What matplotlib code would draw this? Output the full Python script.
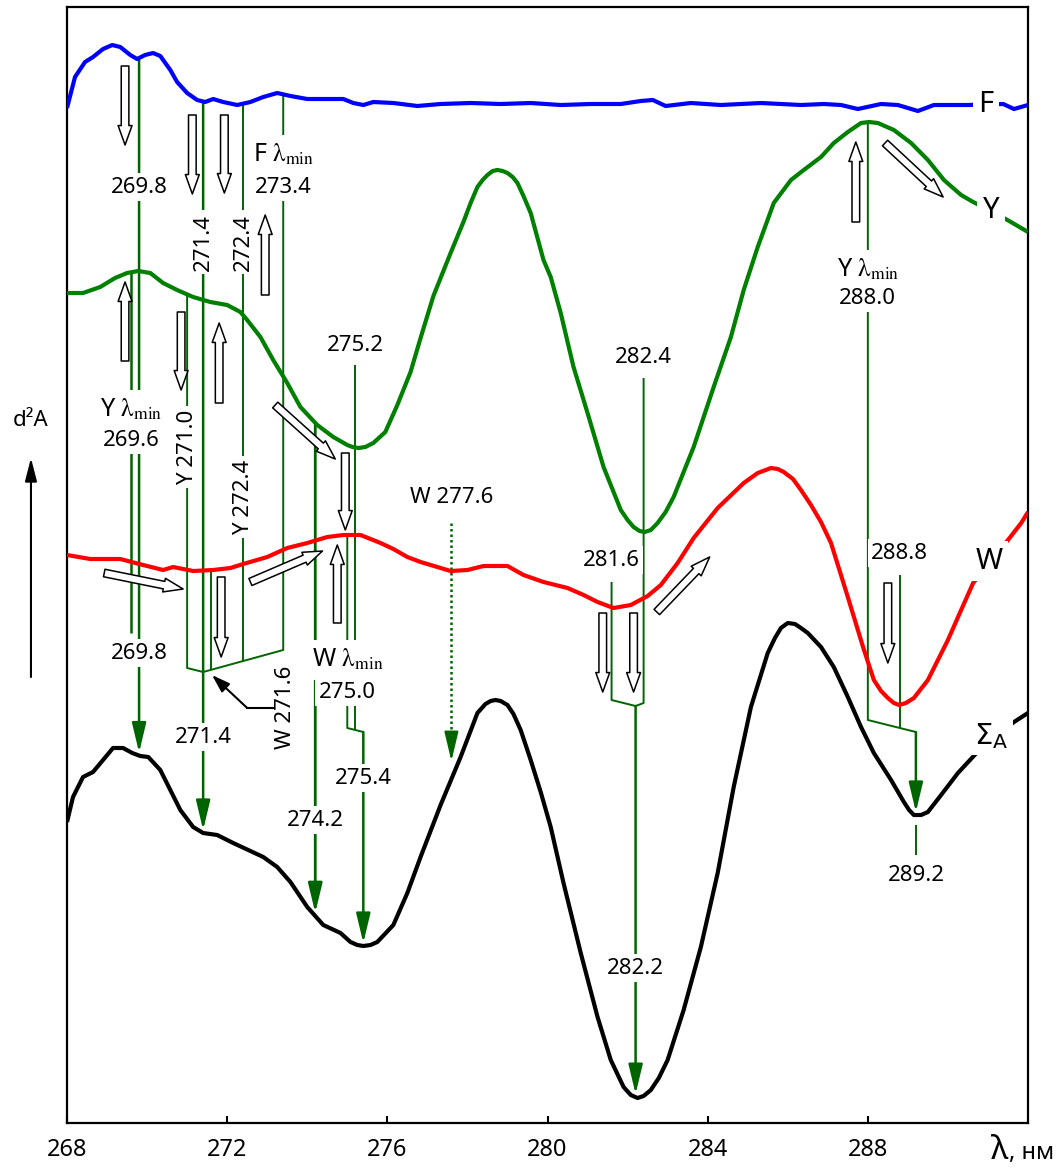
import numpy as np
import matplotlib
matplotlib.use("Agg")
import matplotlib.pyplot as plt
from matplotlib.patches import FancyArrowPatch, ArrowStyle

plt.rcParams["font.family"] = ["Noto Sans", "DejaVu Sans"]

# ---- second-derivative spectra d2A (arbitrary units, traces stacked) ----
f_wl = [268.0, 268.2, 268.45, 268.65, 268.9, 269.13, 269.33, 269.58, 269.75, 269.95,
        270.15, 270.33, 270.58, 270.75, 271.0, 271.25, 271.45, 271.65, 271.9, 272.25,
        272.58, 272.9, 273.25, 273.58, 274.0, 274.9, 275.15, 275.4, 275.65, 276.15,
        276.75, 277.33, 278.08, 278.83, 279.58, 280.33, 281.08, 281.83, 282.33, 282.63,
        282.95, 283.58, 284.33, 285.33, 286.33, 286.9, 287.33, 287.75, 288.33, 288.75,
        289.25, 289.65, 290.08, 290.5, 291.38, 291.65, 292.0]
f_d2 = [101.2, 104.3, 105.8, 106.3, 107.1, 107.5, 107.3, 106.5, 106.1, 106.5,
        106.7, 106.4, 105.0, 103.8, 102.7, 102.0, 101.8, 102.1, 101.8, 101.5,
        101.8, 102.3, 102.7, 102.4, 102.1, 102.1, 101.7, 101.5, 101.8, 101.7,
        101.4, 101.6, 101.7, 101.6, 101.7, 101.5, 101.6, 101.6, 101.9, 102.0,
        101.4, 101.7, 101.5, 101.7, 101.5, 101.6, 101.5, 101.1, 101.6, 101.5,
        100.9, 101.5, 101.5, 101.5, 101.6, 101.1, 101.5]

y_wl = [268.0, 268.4, 268.83, 269.2, 269.5, 269.78, 270.08, 270.4, 270.75, 271.15,
        271.58, 272.0, 272.33, 272.5, 272.83, 273.15, 273.5, 273.83, 274.25, 274.65,
        275.0, 275.13, 275.28, 275.45, 275.65, 275.95, 276.25, 276.58, 276.83, 277.15,
        277.58, 277.9, 278.08, 278.25, 278.38, 278.5, 278.63, 278.75, 278.88, 279.0,
        279.13, 279.25, 279.4, 279.58, 279.9, 280.08, 280.33, 280.65, 281.0, 281.4,
        281.83, 282.0, 282.15, 282.3, 282.43, 282.58, 282.75, 282.95, 283.15, 283.65,
        284.15, 284.58, 284.9, 285.25, 285.65, 286.08, 286.4, 286.83, 287.15, 287.5,
        287.83, 288.03, 288.25, 288.65, 289.08, 289.5, 289.9, 290.33, 290.63, 291.08,
        291.53, 292.0]
y_d2 = [82.7, 82.7, 83.3, 84.2, 84.7, 84.9, 84.7, 83.7, 83.0, 82.3,
        81.8, 81.5, 80.8, 80.0, 78.3, 76.0, 73.7, 71.3, 69.5, 68.3,
        67.5, 67.3, 67.2, 67.3, 67.7, 68.8, 71.5, 74.8, 78.2, 82.4,
        86.7, 89.8, 91.7, 93.3, 94.0, 94.5, 94.9, 95.0, 94.9, 94.7,
        94.3, 93.7, 92.4, 90.7, 86.0, 84.3, 80.7, 75.3, 70.7, 65.3,
        61.0, 60.0, 59.3, 58.9, 58.8, 59.0, 59.7, 60.8, 62.3, 67.3,
        73.3, 78.3, 83.0, 87.3, 91.7, 94.0, 95.0, 96.3, 97.7, 98.8,
        99.7, 99.8, 99.7, 99.0, 97.7, 96.0, 94.0, 92.5, 91.8, 90.9,
        89.9, 88.8]

w_wl = [268.0, 268.58, 269.33, 269.9, 270.4, 270.65, 271.15, 271.65, 272.08, 272.4,
        273.0, 273.5, 274.0, 274.5, 274.9, 275.33, 275.83, 276.15, 276.5, 276.83,
        277.58, 278.0, 278.4, 279.0, 279.4, 279.9, 280.5, 280.9, 281.25, 281.65,
        282.08, 282.5, 282.83, 283.25, 283.65, 284.25, 284.9, 285.25, 285.58, 285.75,
        285.9, 286.13, 286.33, 286.58, 286.83, 287.08, 287.5, 287.88, 288.15, 288.33,
        288.5, 288.65, 288.78, 288.95, 289.15, 289.5, 290.0, 290.33, 290.63, 291.08,
        291.5, 291.83, 292.0]
w_d2 = [56.5, 56.1, 56.1, 55.5, 55.0, 55.3, 54.9, 55.0, 55.2, 55.6,
        56.3, 57.2, 57.7, 58.3, 58.5, 58.5, 57.7, 57.1, 56.3, 55.8,
        54.9, 55.0, 55.4, 55.4, 54.5, 53.8, 53.2, 52.5, 51.8, 51.2,
        51.5, 52.4, 53.5, 55.7, 58.2, 61.2, 63.7, 64.7, 65.2, 65.1,
        64.8, 64.1, 63.0, 61.5, 59.8, 57.7, 52.3, 47.3, 44.0, 42.9,
        42.2, 41.7, 41.5, 41.7, 42.2, 44.0, 48.0, 51.0, 53.7, 56.0,
        58.0, 59.7, 60.8]

s_wl = [268.0, 268.15, 268.4, 268.65, 268.9, 269.15, 269.4, 269.63, 269.83, 270.03,
        270.33, 270.58, 270.83, 271.15, 271.4, 271.75, 272.15, 272.58, 272.9, 273.25,
        273.58, 274.0, 274.4, 274.83, 275.08, 275.25, 275.4, 275.58, 275.75, 276.15,
        276.5, 276.83, 277.33, 277.83, 278.25, 278.45, 278.58, 278.7, 278.83, 279.0,
        279.15, 279.33, 279.58, 279.83, 280.08, 280.4, 280.83, 281.25, 281.58, 281.9,
        282.08, 282.25, 282.4, 282.58, 282.78, 283.0, 283.4, 283.83, 284.25, 284.65,
        285.08, 285.5, 285.68, 285.83, 286.0, 286.18, 286.33, 286.5, 286.83, 287.15,
        287.5, 287.83, 288.15, 288.58, 288.9, 289.03, 289.15, 289.33, 289.5, 289.83,
        290.25, 290.83, 291.33, 291.65, 292.0]
s_d2 = [29.8, 32.3, 34.3, 34.8, 36.0, 37.2, 37.2, 36.7, 36.4, 36.3,
        35.0, 33.0, 31.0, 29.3, 28.7, 28.5, 27.7, 26.9, 26.3, 25.3,
        23.8, 21.3, 19.5, 18.7, 17.8, 17.5, 17.4, 17.5, 17.8, 19.5,
        22.7, 26.3, 31.5, 36.3, 40.7, 41.6, 41.9, 42.0, 41.9, 41.5,
        40.6, 39.0, 36.0, 32.8, 29.3, 23.7, 16.7, 10.3, 6.0, 3.3,
        2.5, 2.2, 2.4, 3.0, 4.2, 6.0, 11.0, 17.3, 24.7, 33.3,
        41.3, 46.7, 48.2, 49.2, 49.7, 49.6, 49.2, 48.7, 47.3, 45.3,
        42.3, 39.3, 36.7, 34.0, 31.8, 31.0, 30.5, 30.5, 30.8, 32.5,
        34.7, 37.2, 38.8, 39.8, 40.7]

x_ticks = [268, 272, 276, 280, 284, 288]

# hollow arrows showing how the component features shift (tail -> head)
shift_arrows = [
    ((269.45, 105.4), (269.45, 97.5)),
    ((271.13, 100.5), (271.13, 92.6)),
    ((271.93, 100.5), (271.93, 92.7)),
    ((272.95, 82.5), (272.95, 90.5)),
    ((269.45, 75.9), (269.45, 83.8)),
    ((270.85, 80.8), (270.85, 73.0)),
    ((271.80, 71.7), (271.80, 79.7)),
    ((273.20, 71.5), (274.70, 66.1)),
    ((274.95, 66.7), (274.95, 59.0)),
    ((274.75, 49.7), (274.75, 57.5)),
    ((268.93, 54.7), (270.90, 53.1)),
    ((272.58, 53.8), (274.38, 56.9)),
    ((271.85, 54.3), (271.85, 46.3)),
    ((281.38, 50.7), (281.38, 42.8)),
    ((282.15, 50.7), (282.15, 42.8)),
    ((282.73, 50.8), (284.05, 56.3)),
    ((287.70, 89.8), (287.70, 97.8)),
    ((288.43, 97.7), (289.88, 92.3)),
    ((288.50, 53.7), (288.50, 45.7)),
]

GUIDE = "#006400"
F = (f_wl, f_d2)
Y = (y_wl, y_d2)
W = (w_wl, w_d2)
S = (s_wl, s_d2)

fig = plt.figure(figsize=(10.62, 11.69), dpi=100)
ax = fig.add_axes([0.06309, 0.03935, 0.90490, 0.95466])
ax.set_xlim(268, 292)
ax.set_ylim(-0.3, 111.3)

for wl, d2, col in [(f_wl, f_d2, "#0000ff"), (y_wl, y_d2, "#008000"),
                    (w_wl, w_d2, "#ff0000"), (s_wl, s_d2, "black")]:
    ax.plot(wl, d2, color=col, lw=3.0, zorder=3, solid_joinstyle="round",
            solid_capstyle="butt")


def on(trace, x):
    return float(np.interp(x, trace[0], trace[1]))


def tip(x):
    return on(S, x) + 0.3


def guide(xs, ys, lw=1.4, ls="-"):
    ax.plot(xs, ys, color=GUIDE, lw=lw, ls=ls, zorder=2, solid_capstyle="butt")


def drop(x, y0, y1, lw=1.8):
    ax.annotate("", xy=(x, y1), xytext=(x, y0), zorder=2,
                arrowprops=dict(arrowstyle=ArrowStyle("-|>", head_length=1.8, head_width=0.43),
                                mutation_scale=10, color=GUIDE, lw=lw,
                                shrinkA=0, shrinkB=0))


def tag(x, y, s, rot=0, size=16, pad=0.15, box=True):
    kw = dict(ha="center", va="center", rotation=rot, fontsize=size,
              math_fontfamily="stix", zorder=5, color="black")
    if box:
        kw["bbox"] = dict(boxstyle=f"square,pad={pad}", fc="white", ec="none")
    ax.text(x, y, s, **kw)


def head(x, y, letter):
    # "<letter> lambda_min" caption above a wavelength value
    tag(x, y, letter + " " + r"$\mathrm{\lambda}_{\mathrm{min}}$", size=18, pad=0.3)


# --- F and Y features around 269-274 nm merging into the sum spectrum ---
drop(269.8, on(F, 269.8), tip(269.8))
guide([269.6, 269.6], [on(Y, 269.6), 48.7], lw=1.8)
drop(271.4, on(F, 271.4), tip(271.4))
guide([271.0, 271.0, 271.4], [on(Y, 271.0), 45.2, 44.8])
guide([273.4, 273.4, 271.4], [on(F, 273.4), 47.0, 44.8])


def bracket_left(x):
    return 44.8 + (x - 271.4) * (47.0 - 44.8) / (273.4 - 271.4)


guide([272.4, 272.4], [on(F, 272.4), bracket_left(272.4)])
guide([271.6, 271.6], [on(W, 271.6), bracket_left(271.6)])

# --- 274-276 nm ---
drop(274.2, on(Y, 274.2), tip(274.2), lw=2.0)
guide([275.2, 275.2], [75.5, 39.0])
guide([275.0, 275.0, 275.4], [on(W, 275.0), 39.2, 38.8])
drop(275.4, 38.8, tip(275.4))

# W 277.6 (dotted)
guide([277.6, 277.6], [59.7, tip(277.6) + 4.0], lw=1.8, ls=(0, (1, 1.2)))
ax.annotate("", xy=(277.6, tip(277.6) + 1.5), xytext=(277.6, tip(277.6) + 4.0), zorder=2,
            arrowprops=dict(arrowstyle=ArrowStyle("-|>", head_length=1.8, head_width=0.43),
                            mutation_scale=10, color=GUIDE, lw=1.5, shrinkA=0, shrinkB=0))

# --- 281-283 nm ---
guide([282.4, 282.4, 282.2], [74.2, 41.7, 41.4])
guide([281.6, 281.6, 282.2], [53.8, 42.0, 41.4])
drop(282.2, 41.4, tip(282.2))

# --- 288-289 nm ---
guide([288.0, 288.0, 289.2], [on(Y, 288.0), 40.0, 38.8])
guide([288.8, 288.8], [54.5, 39.2])
drop(289.2, 38.8, tip(289.2))
guide([289.2, 289.2], [29.5, 26.5])

# hollow shift arrows
for p0, p1 in shift_arrows:
    ax.add_patch(FancyArrowPatch(p0, p1,
                                 arrowstyle=ArrowStyle.Simple(head_length=14, head_width=10,
                                                              tail_width=5.5),
                                 mutation_scale=1, fc="white", ec="black", lw=1.1,
                                 shrinkA=0, shrinkB=0, zorder=4))

# labels
tag(269.8, 93.3, "269.8")
head(273.4, 96.5, "F")
tag(273.4, 93.3, "273.4")
tag(271.4, 87.8, "271.4", rot=90)
tag(272.4, 87.8, "272.4", rot=90)
head(269.6, 71.0, "Y")
tag(269.6, 68.0, "269.6")
tag(271.0, 67.3, "Y 271.0", rot=90)
tag(272.4, 62.3, "Y 272.4", rot=90)
tag(275.2, 77.5, "275.2")
head(275.0, 46.0, "W")
tag(275.0, 42.8, "275.0")
tag(269.8, 46.7, "269.8")
tag(271.4, 38.3, "271.4")
tag(273.45, 41.3, "W 271.6", rot=90, box=False)
tag(274.2, 30.0, "274.2")
tag(275.4, 34.2, "275.4")
tag(277.6, 62.3, "W 277.6")
tag(282.4, 76.3, "282.4")
tag(281.6, 56.0, "281.6")
tag(282.2, 15.2, "282.2")
head(288.0, 85.0, "Y")
tag(288.0, 82.2, "288.0")
tag(288.8, 56.7, "288.8")
tag(289.2, 24.5, "289.2")

# pointer to the W 271.6 merge point
ax.plot([273.15, 272.5], [41.2, 41.2], color="black", lw=1.5, zorder=4)
ax.annotate("", xy=(271.62, 44.5), xytext=(272.5, 41.2), zorder=4,
            arrowprops=dict(arrowstyle=ArrowStyle("-|>", head_length=1.1, head_width=0.36),
                            mutation_scale=10, color="black", lw=1.5, shrinkA=0, shrinkB=0))

# trace names
tag(290.95, 101.6, "F", size=21, pad=0.2)
tag(291.08, 91.0, "Y", size=21, pad=0.2)
tag(291.02, 55.9, "W", size=21, pad=0.2)
ax.text(291.08, 38.4, r"$\Sigma_{\mathsf{A}}$", ha="center", va="center", fontsize=21,
        math_fontfamily="dejavusans", zorder=5,
        bbox=dict(boxstyle="square,pad=0.15", fc="white", ec="none"))

# axes styling
ax.set_xticks(x_ticks)
ax.set_xticklabels([str(t) for t in x_ticks], fontsize=17)
ax.tick_params(axis="x", direction="in", length=5, width=1.5, pad=11, top=False)
ax.set_yticks([])
for sp in ax.spines.values():
    sp.set_linewidth(1.6)

# axis annotations
ax.text(0.9709, -0.025, "λ", transform=ax.transAxes, ha="center", va="center", fontsize=24)
ax.text(0.9800, -0.027, ", нм", transform=ax.transAxes, ha="left", va="center", fontsize=17)

yax = ax.get_yaxis_transform()
ax.text(-0.0375, 70.0, "d²A", transform=yax, ha="center", va="center", fontsize=16)
ax.annotate("", xy=(-0.0375, 66.2), xytext=(-0.0375, 44.3), xycoords=yax, textcoords=yax,
            annotation_clip=False,
            arrowprops=dict(arrowstyle=ArrowStyle("-|>", head_length=1.4, head_width=0.36),
                            mutation_scale=10, color="black", lw=1.5, shrinkA=0, shrinkB=0))

fig.savefig("out.png", dpi=100)
